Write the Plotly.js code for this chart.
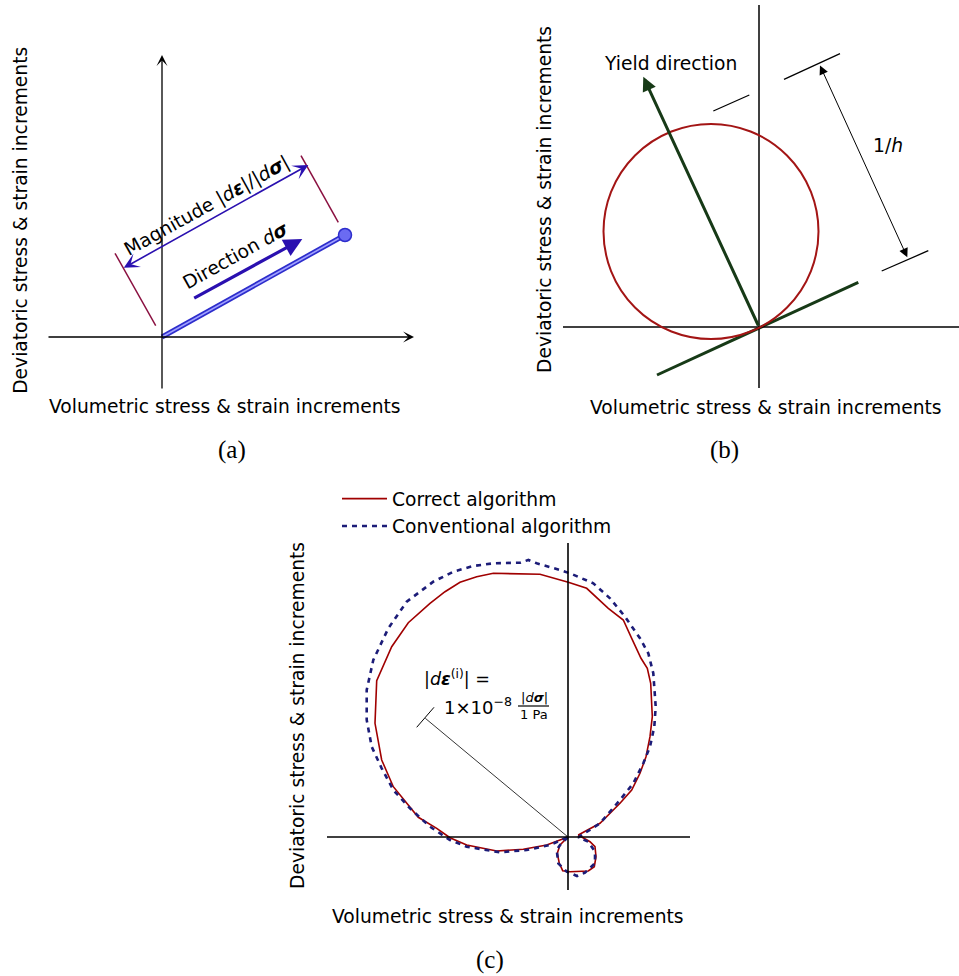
<!DOCTYPE html>
<html><head><meta charset="utf-8">
<script src="https://cdn.plot.ly/plotly-3.0.1.min.js"></script>
<style>html,body{margin:0;padding:0;background:#fff}#chart{width:959px;height:976px}</style>
</head><body><div id="chart"></div>
<script>
// ---------- texts ----------
const volLabel = 'Volumetric stress & strain increments';
const devLabel = 'Deviatoric stress & strain increments';
const panelLabels = ['(a)', '(b)', '(c)'];
const seriesNames = ['Correct algorithm', 'Conventional algorithm'];

// ---------- panel (c): strain-increment response envelopes ----------
const correctX = [0,-8,-10.7,-8.7,-5.3,2,20.3,26.3,28,27,22,14.7,10.3,32,52,63.7,72,78,82,84.3,83,82.7,79.3,73,63.7,55.3,40.3,23.7,18.7,0.3,-28,-74.7,-91.3,-108,-123,-138,-159.7,-176.3,-191.3,-193,-186.3,-174.7,-149.7,-131.3,-118,-101.3,-71.3,-44.7,-21.3,0];
const correctY = [0,-8,-16.3,-26.3,-33.7,-34.7,-34,-29.7,-19.7,-9.7,-4.7,-0.7,2,13.7,33.7,47,63.7,80.3,100.3,120.3,140.3,153.7,168.7,178.7,198.7,217,228.7,243.7,248.7,254.7,262.7,263.7,260.3,254.7,245.3,233.7,214.3,190.3,156.3,113.7,77,50.3,19.7,8.7,-0.7,-8,-14,-12.3,-8,0];
const convX = [0,-8,-11.3,-9.7,-1.3,9,17,27,27,20.3,10.3,32,52,65.3,75.3,82,86.3,87.7,85.3,80.3,72,57,42,25.3,3.7,-8,-31.3,-39.7,-48,-74.7,-94.7,-114.7,-134.7,-161.3,-179.7,-194.7,-201.3,-201.3,-196.3,-186.3,-174.7,-158,-138,-118,-101.3,-68,-41.3,-18,0];
const convY = [0,-8,-13,-26.3,-34.7,-39,-35.7,-26.3,-14.7,-4.7,-0.3,13.7,37,53.7,73.7,90.3,110.3,130.3,163.7,183.7,198.7,220.3,238.7,253.7,263,267,273.7,277,274.3,273.7,271,265.3,255.3,235.3,208.7,177,147,117,90.3,68.7,47,28.7,10.3,-3,-9.7,-15.3,-13,-8,0];
// reference radius marker in (c)
const radiusX = [-142.7, 0];
const radiusY = [118.7, 0];

// ---------- panel (a): stress increment ----------
const incX = [0, 183];
const incY = [0, 102];
const dirArrowX = [30.7, 140.3];
const dirArrowY = [38, 98];
const magArrowX = [-39.7, 146.3];
const magArrowY = [68.3, 172];

// ---------- panel (b): yield surface response ----------
const circleCenter = [-48, 95.5];
const circleRadius = 107.5;
const yieldArrowX = [0, -115.7];
const yieldArrowY = [0, 250.3];
const tangentX = [-102, 99.3];
const tangentY = [-48, 44.7];
const hArrowX = [60.3, 148.3];
const hArrowY = [263, 69.7];

const W = 959, H = 976;
const px = x => x / W;
const py = y => 1 - y / H;
const FONT = 'DejaVu Sans';
const FS = 18.7;

function arrow(xr, yr, tx, ty, hx, hy, color, width, size, head, side) {
  return {xref: xr, yref: yr, axref: xr, ayref: yr, x: hx, y: hy, ax: tx, ay: ty,
    text: '', showarrow: true, arrowhead: head, startarrowhead: head, arrowside: side || 'end',
    arrowsize: size, startarrowsize: size, arrowwidth: width, arrowcolor: color,
    standoff: 0, startstandoff: 0};
}
function seg(xr, yr, x0, y0, x1, y1, color, width) {
  return {type: 'line', xref: xr, yref: yr, x0, y0, x1, y1, line: {color, width}};
}
function label(xp, yp, text, opts) {
  return Object.assign({xref: 'paper', yref: 'paper', x: px(xp), y: py(yp), text,
    showarrow: false, xanchor: 'center', yanchor: 'middle',
    font: {family: FONT, size: FS, color: '#000'}}, opts || {});
}

const traces = [
  {x: correctX, y: correctY, xaxis: 'x3', yaxis: 'y3', mode: 'lines', name: seriesNames[0],
   line: {color: '#a00000', width: 1.6}, hoverinfo: 'skip'},
  {x: convX, y: convY, xaxis: 'x3', yaxis: 'y3', mode: 'lines', name: seriesNames[1],
   line: {color: '#1c1c78', width: 2.6, dash: '5px,5px'}, hoverinfo: 'skip'},
  {x: radiusX, y: radiusY, xaxis: 'x3', yaxis: 'y3', mode: 'lines', showlegend: false,
   line: {color: '#000', width: 0.8}, hoverinfo: 'skip'},
  {x: incX, y: incY, xaxis: 'x', yaxis: 'y', mode: 'lines', showlegend: false,
   line: {color: '#2d2dcc', width: 5}, hoverinfo: 'skip'},
  {x: incX, y: incY, xaxis: 'x', yaxis: 'y', mode: 'lines', showlegend: false,
   line: {color: '#a0a0ff', width: 1.6}, hoverinfo: 'skip'},
  {x: [incX[1]], y: [incY[1]], xaxis: 'x', yaxis: 'y', mode: 'markers', showlegend: false,
   marker: {size: 13, color: '#6b6bf2', line: {color: '#2d2dcc', width: 1.5}}, hoverinfo: 'skip'},
  {x: tangentX, y: tangentY, xaxis: 'x2', yaxis: 'y2', mode: 'lines', showlegend: false,
   line: {color: '#173a17', width: 3}, hoverinfo: 'skip'}
];

const shapes = [
  // panel (a) tick lines of the magnitude dimension
  seg('x', 'y', -47, 83.7, -6.3, 11.3, '#8a1040', 1.5),
  seg('x', 'y', 139, 181.3, 176.3, 114.7, '#8a1040', 1.5),
  // panel (b) axes
  seg('x2', 'y2', 0, -61, 0, 322, '#000', 1.5),
  seg('x2', 'y2', -196, 0, 200, 0, '#000', 1.5),
  {type: 'circle', xref: 'x2', yref: 'y2',
   x0: circleCenter[0] - circleRadius, x1: circleCenter[0] + circleRadius,
   y0: circleCenter[1] - circleRadius, y1: circleCenter[1] + circleRadius,
   line: {color: '#a31515', width: 2}},
  seg('x2', 'y2', -45.7, 216, -9.7, 232, '#000', 1.3),
  seg('x2', 'y2', 25, 247.7, 81, 273.3, '#000', 1.3),
  seg('x2', 'y2', 122.7, 56, 169.3, 76.3, '#000', 1.3),
  // panel (c) axes
  seg('x3', 'y3', 0, -53, 0, 294, '#000', 1.6),
  seg('x3', 'y3', -241, 0, 122, 0, '#000', 1.6),
  // panel (c) radius tick and fraction bar
  seg('x3', 'y3', -151.3, 109.7, -134, 129.7, '#000', 1),
  seg('x3', 'y3', -50, 131, -19, 131, '#000', 1.2)
];

const annotations = [
  // panel (a) axes
  arrow('x', 'y', 0, -53, 0, 282, '#000', 1.3, 1.4, 3),
  arrow('x', 'y', -115, 0, 252, 0, '#000', 1.3, 1.4, 3),
  arrow('x', 'y', dirArrowX[0], dirArrowY[0], dirArrowX[1], dirArrowY[1], '#2a10b0', 3.2, 1.15, 2),
  arrow('x', 'y', magArrowX[0], magArrowY[0], magArrowX[1], magArrowY[1], '#2a10b0', 1.6, 1.6, 3, 'end+start'),
  label(206.7, 205.5, 'Magnitude |<i>d</i><b><i>ε</i></b>|/|<i>d</i><b><i>σ</i></b>|', {textangle: -29.1}),
  label(235.5, 255.7, 'Direction <i>d</i><b><i>σ</i></b>', {textangle: -29.1}),
  label(20.8, 220, devLabel, {textangle: -90}),
  label(225, 406.7, volLabel),
  label(231.7, 450, panelLabels[0], {font: {family: 'Liberation Serif', size: 25, color: '#000'}}),
  // panel (b)
  arrow('x2', 'y2', yieldArrowX[0], yieldArrowY[0], yieldArrowX[1], yieldArrowY[1], '#173a17', 3, 0.95, 2),
  arrow('x2', 'y2', hArrowX[0], hArrowY[0], hArrowX[1], hArrowY[1], '#000', 1, 1.8, 2, 'end+start'),
  label(670.8, 63.3, 'Yield direction'),
  label(888.3, 145, '1/<i>h</i>'),
  label(544, 200, devLabel, {textangle: -90}),
  label(765.5, 407, volLabel),
  label(724, 450, panelLabels[1], {font: {family: 'Liberation Serif', size: 25, color: '#000'}}),
  // panel (c)
  label(456.7, 678.3, '|<i>d</i><b><i>ε</i></b><sup>(i)</sup>| =', {font: {family: FONT, size: 17.5, color: '#000'}}),
  label(478, 706, '1×10<sup>−8</sup>', {font: {family: FONT, size: 18, color: '#000'}}),
  label(534, 697.5, '|<i>d</i><b><i>σ</i></b>|', {font: {family: FONT, size: 13, color: '#000'}}),
  label(534, 714, '1 Pa', {font: {family: FONT, size: 13, color: '#000'}}),
  label(297, 716, devLabel, {textangle: -90}),
  label(508.5, 916.7, volLabel),
  label(490, 960, panelLabels[2], {font: {family: 'Liberation Serif', size: 25, color: '#000'}})
];

const hidden = {visible: false, fixedrange: true, showgrid: false, zeroline: false};
const layout = {
  width: W, height: H,
  margin: {l: 0, r: 0, t: 0, b: 0},
  paper_bgcolor: '#fff', plot_bgcolor: 'rgba(0,0,0,0)',
  font: {family: FONT, size: FS, color: '#000'},
  showlegend: true,
  legend: {x: px(337), y: py(480), xanchor: 'left', yanchor: 'top', itemwidth: 45,
           bgcolor: 'rgba(0,0,0,0)', font: {family: FONT, size: FS, color: '#000'}},
  xaxis: Object.assign({domain: [px(30), px(430)], range: [-132, 268], anchor: 'y'}, hidden),
  yaxis: Object.assign({domain: [py(400), py(40)], range: [-63, 297], anchor: 'x'}, hidden),
  xaxis2: Object.assign({domain: [px(560), 1], range: [-199, 200], anchor: 'y2'}, hidden),
  yaxis2: Object.assign({domain: [py(400), 1], range: [-73, 327], anchor: 'x2'}, hidden),
  xaxis3: Object.assign({domain: [px(320), px(700)], range: [-248, 132], anchor: 'y3'}, hidden),
  yaxis3: Object.assign({domain: [py(900), py(530)], range: [-63, 307], anchor: 'x3'}, hidden),
  shapes, annotations
};

Plotly.newPlot('chart', traces, layout, {displayModeBar: false, staticPlot: true});
</script>
</body></html>
